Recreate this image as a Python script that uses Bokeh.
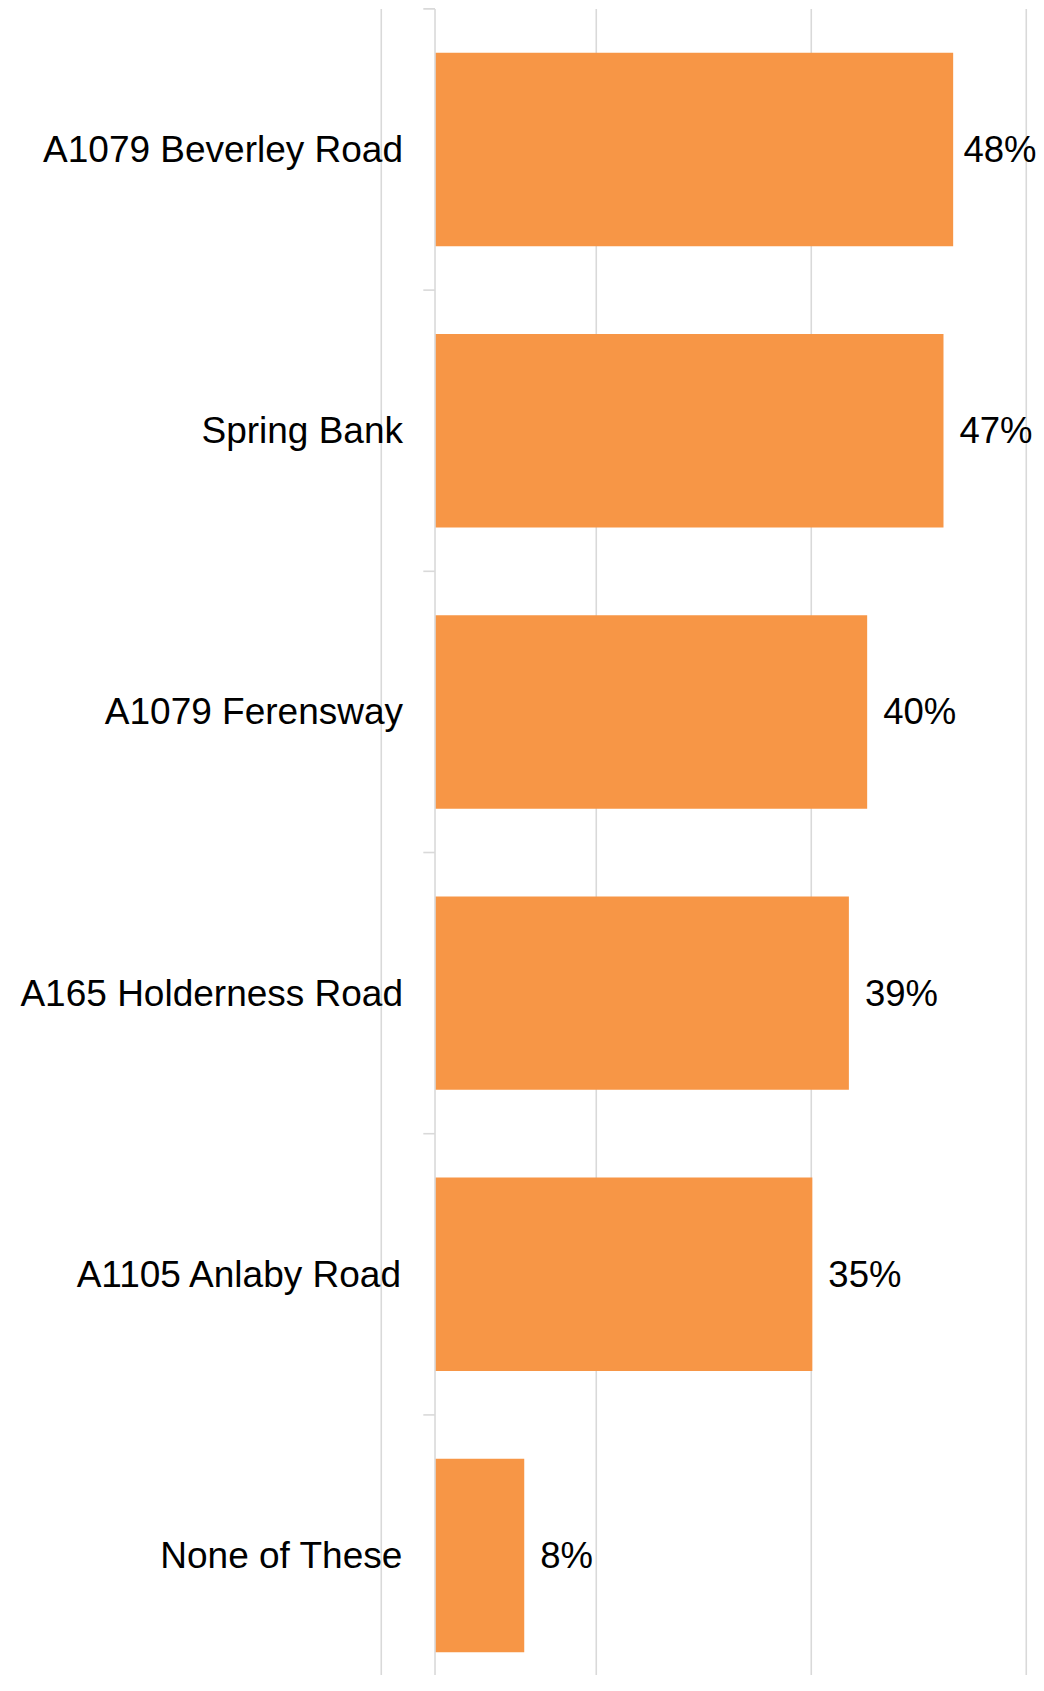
from bokeh.plotting import figure
from bokeh.models import ColumnDataSource, Range1d
from bokeh.core.properties import value
from bokeh.embed import file_html
from bokeh.resources import INLINE

# ---- data (top to bottom) ----
categories = ["A1079 Beverley Road", "Spring Bank", "A1079 Ferensway",
              "A165 Holderness Road", "A1105 Anlaby Road", "None of These"]
percentages = [48.2, 47.3, 40.2, 38.5, 35.1, 8.3]
value_labels = ["48%", "47%", "40%", "39%", "35%", "8%"]
grid_ticks = [-5, 15, 35, 55]

# ---- layout constants ----
W, H = 1036, 1675
X_START = -40.42
PX_PER_UNIT = 10.75
X_END = X_START + W / PX_PER_UNIT
n = len(categories)
Y_START, Y_END = -0.4267, 5.5299

BAR_COLOR = "#F79646"
GRID_COLOR = "#D9D9D9"
FONT = "Liberation Sans"

ys = [n - 1 - i for i in range(n)]
top_bound = max(ys) + 0.5

p = figure(width=W, height=H, output_backend="svg", toolbar_location=None,
           x_range=Range1d(X_START, X_END), y_range=Range1d(Y_START, Y_END),
           x_axis_location=None, y_axis_location=None,
           min_border=0, min_border_left=0, min_border_right=0,
           min_border_top=0, min_border_bottom=0)
p.outline_line_color = None
p.background_fill_color = "white"
p.border_fill_color = "white"
p.xgrid.visible = False
p.ygrid.visible = False

# vertical gridlines (start at top of plot area)
p.segment(x0=grid_ticks, x1=grid_ticks, y0=[top_bound] * len(grid_ticks),
          y1=[Y_START] * len(grid_ticks), line_color=GRID_COLOR, line_width=1.6)

# bars
src = ColumnDataSource(dict(y=ys, cat=categories, v=percentages, lbl=value_labels))
p.hbar(y="y", left=0, right="v", height=0.688, source=src,
       fill_color=BAR_COLOR, line_color=None)

# category axis line and ticks (between categories)
p.segment(x0=[0], x1=[0], y0=[top_bound], y1=[Y_START],
          line_color=GRID_COLOR, line_width=1.6)
tick_len = 11.7 / PX_PER_UNIT
bounds = [y + 0.5 for y in ys]
p.segment(x0=[-tick_len] * n, x1=[0] * n, y0=bounds, y1=bounds,
          line_color=GRID_COLOR, line_width=1.6)

# category labels
p.text(x=0, y="y", text="cat", source=src, x_offset=-32,
       text_align="right", text_baseline="middle",
       text_font=value(FONT), text_font_size="37px", text_color="#000000")

# value labels (shifted left if they would overflow the chart area)
fs = 36.5
offsets = []
for v, lbl in zip(percentages, value_labels):
    end_px = (v - X_START) * PX_PER_UNIT
    est_w = fs * (0.556 * (len(lbl) - 1) + 0.889)
    offsets.append(min(16, W - end_px - est_w))
src.data["off"] = offsets
p.text(x="v", y="y", text="lbl", source=src, x_offset="off",
       text_align="left", text_baseline="middle",
       text_font=value(FONT), text_font_size=f"{fs}px", text_color="#000000")

open("out.html", "w").write(file_html(p, INLINE))
